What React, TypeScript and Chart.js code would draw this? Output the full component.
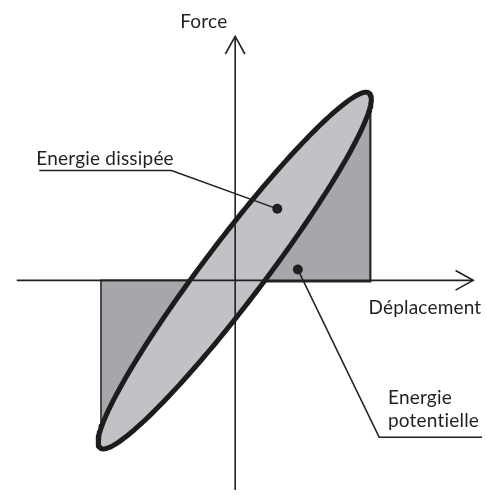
import React, { useEffect, useRef } from "react";
import { Chart, registerables } from "chart.js";

Chart.register(...registerables);

// ---- Data (displacement on x, force on y; origin at the axes crossing) ----
const xAxisLine = [{ x: -223, y: 0 }, { x: 243, y: 0 }];
const yAxisLine = [{ x: 0, y: -214 }, { x: 0, y: 249 }];
const xArrowHead = [{ x: 225, y: 10 }, { x: 243, y: 0 }, { x: 225, y: -10 }];
const yArrowHead = [{ x: -10, y: 231 }, { x: 0, y: 249 }, { x: 10, y: 231 }];

// Potential energy triangles: origin -> (±Xmax, 0) -> (±Xmax, ±Fmax)
const potentialRight = [{ x: 0, y: 0 }, { x: 138, y: 188 }, { x: 138, y: -1 }, { x: 0, y: -1 }];
const potentialLeft = [{ x: 0, y: 0 }, { x: -137, y: -160 }, { x: -137, y: 0 }, { x: 0, y: 0 }];

// Hysteresis loop F = k·x + c·dx/dt (ellipse)
const loopCentre = [-0.5, 10]; // [x, F]
const loopAmplitude = [139.5, 175, 50]; // [X, kX, cωX]

// Leader lines for the annotations
const leaderDissipee = [{ x: -200, y: 112 }, { x: -65, y: 112 }, { x: 43, y: 73 }];
const leaderPotentielle = [{ x: 252, y: -160 }, { x: 147, y: -160 }, { x: 64, y: 11 }];
const leaderDots = [{ x: 43, y: 73 }, { x: 64, y: 11 }];

// Text labels
const labelTexts = ["Force", "Déplacement", "Energie dissipée", "Energie", "potentielle"];
const labelX = [-32, 136, -203, 156, 156];
const labelY = [258, -34, 118, -126, -150];
const labelAlign = ["center", "left", "left", "left", "left"];

function loopPoints() {
  const pts: { x: number; y: number }[] = [];
  const n = 240;
  for (let i = 0; i <= n; i++) {
    const t = (i / n) * Math.PI * 2;
    pts.push({
      x: loopCentre[0] + loopAmplitude[0] * Math.cos(t),
      y: loopCentre[1] + loopAmplitude[1] * Math.cos(t) + loopAmplitude[2] * Math.sin(t),
    });
  }
  return pts;
}

const INK = "#231f20";

const textPlugin = {
  id: "diagramLabels",
  afterDatasetsDraw(chart: any) {
    const { ctx } = chart;
    const xs = chart.scales.x;
    const ys = chart.scales.y;
    ctx.save();
    ctx.fillStyle = INK;
    ctx.font = "19px Lato";
    try {
      (ctx as any).letterSpacing = "0.2px";
    } catch (e) {}
    ctx.textBaseline = "alphabetic";
    labelTexts.forEach((t, i) => {
      ctx.textAlign = labelAlign[i];
      ctx.fillText(t, xs.getPixelForValue(labelX[i]), ys.getPixelForValue(labelY[i]));
    });
    ctx.restore();
  },
};

export default function App() {
  const ref = useRef<HTMLCanvasElement | null>(null);

  useEffect(() => {
    if (!ref.current) return;
    const line = (data: any[], color: string, width: number, order: number, extra: any = {}) => ({
      data,
      showLine: true,
      borderColor: color,
      borderWidth: width,
      pointRadius: 0,
      fill: false,
      tension: 0,
      order,
      borderJoinStyle: "miter",
      ...extra,
    });
    const chart = new Chart(ref.current, {
      type: "scatter",
      data: {
        datasets: [
          {
            data: leaderDots,
            showLine: false,
            pointRadius: 5,
            pointBackgroundColor: INK,
            pointBorderWidth: 0,
            order: 0,
          },
          line(leaderDissipee, INK, 1.5, 1),
          line(leaderPotentielle, INK, 1.5, 1),
          line(xAxisLine, INK, 1.6, 2),
          line(yAxisLine, INK, 1.6, 2),
          line(xArrowHead, INK, 1.6, 2),
          line(yArrowHead, INK, 1.6, 2),
          line(loopPoints(), "#1e1b1c", 5, 3, {
            fill: "shape",
            backgroundColor: "#c1c2c6",
            borderJoinStyle: "round",
          }),
          line(potentialRight, "#2a2728", 2.2, 4, { fill: "shape", backgroundColor: "#a6a7aa" }),
          line(potentialLeft, "#2a2728", 1.6, 4, { fill: "shape", backgroundColor: "#a6a7aa" }),
        ] as any,
      },
      options: {
        responsive: false,
        animation: false,
        events: [],
        layout: { padding: 0 },
        plugins: { legend: { display: false }, tooltip: { enabled: false } },
        scales: {
          x: { type: "linear", min: -235, max: 252, display: false },
          y: { type: "linear", min: -218, max: 281, display: false },
        },
      },
      plugins: [textPlugin],
    });
    return () => chart.destroy();
  }, []);

  return (
    <div style={{ position: "fixed", left: 0, top: 0, width: 487, height: 499, background: "#fff" }}>
      <canvas ref={ref} width={487} height={499} />
    </div>
  );
}
